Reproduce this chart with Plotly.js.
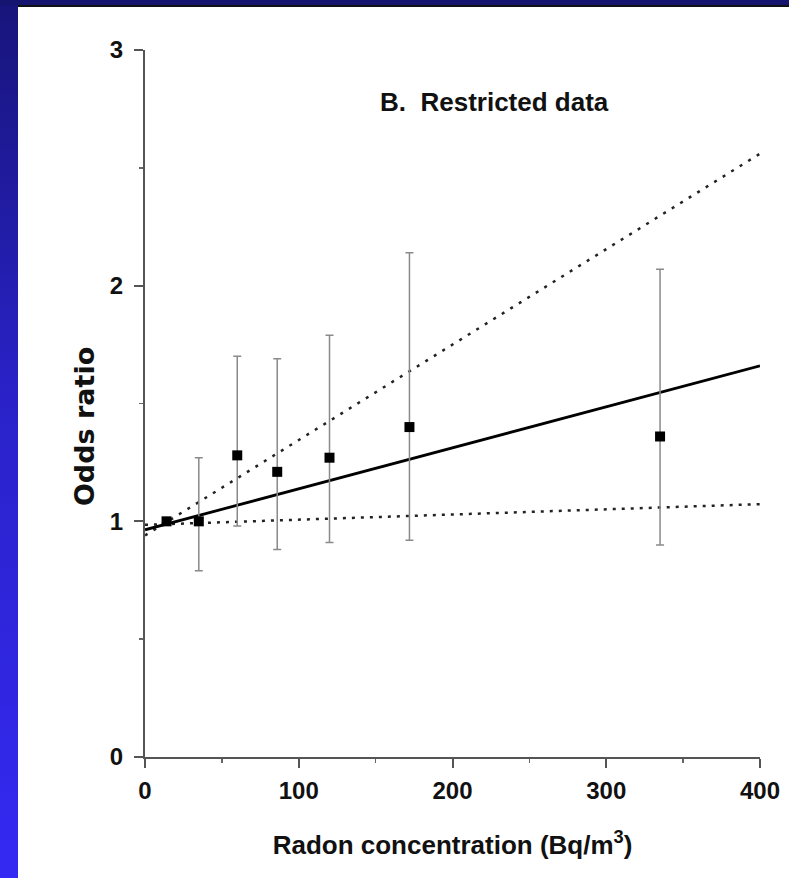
<!DOCTYPE html>
<html>
<head>
<meta charset="utf-8">
<script src="https://cdn.plot.ly/plotly-3.0.1.min.js"></script>
<style>
  html, body { margin: 0; padding: 0; width: 789px; height: 878px; overflow: hidden; }
  body { background: linear-gradient(to bottom, #17157a 0%, #2a22c8 45%, #3429f2 100%); position: relative; }
  #topband { position: absolute; left: 0; top: 0; width: 789px; height: 5px; background: #15146e; }
  #topline { position: absolute; left: 18px; top: 5px; width: 771px; height: 2px; background: #111; }
  #chart { position: absolute; left: 18px; top: 7px; width: 771px; height: 871px; background: #fff; }
</style>
</head>
<body>
<div id="topband"></div>
<div id="topline"></div>
<div id="chart"></div>
<script>
// Observed odds ratios by radon concentration category
var radon = [14, 35, 60, 86, 120, 172, 335];
var oddsRatio = [1.00, 1.00, 1.28, 1.21, 1.27, 1.40, 1.36];
var ciUpper = [1.00, 1.27, 1.70, 1.69, 1.79, 2.14, 2.07];
var ciLower = [1.00, 0.79, 0.98, 0.88, 0.91, 0.92, 0.90];

// Fitted linear model and its confidence limits
var fitX = [0, 400];
var fitY = [0.964, 1.660];
var fitUpperY = [0.940, 2.560];
var fitLowerY = [0.985, 1.073];

var xTickVals = [0, 100, 200, 300, 400];
var xTickText = ['0', '100', '200', '300', '400'];
var yTickVals = [0, 1, 2, 3];
var yTickText = ['0', '1', '2', '3'];

var errPlus = ciUpper.map(function (u, i) { return u - oddsRatio[i]; });
var errMinus = ciLower.map(function (l, i) { return oddsRatio[i] - l; });

var arialB = '"Liberation Sans", Arial, sans-serif';

var traces = [
  { x: fitX, y: fitUpperY, mode: 'lines', line: { color: '#222', width: 2.5, dash: '3px,7px' }, hoverinfo: 'skip', showlegend: false },
  { x: fitX, y: fitLowerY, mode: 'lines', line: { color: '#222', width: 2.5, dash: '3px,6px' }, hoverinfo: 'skip', showlegend: false },
  { x: fitX, y: fitY, mode: 'lines', line: { color: '#000', width: 2.8 }, showlegend: false },
  {
    x: radon, y: oddsRatio, mode: 'markers',
    marker: { symbol: 'square', size: 10, color: '#000' },
    error_y: { type: 'data', symmetric: false, array: errPlus, arrayminus: errMinus, color: '#8a8a8a', thickness: 1.5, width: 4 },
    cliponaxis: false, showlegend: false
  }
];

var axisCommon = {
  showgrid: false, zeroline: false, showline: true,
  linecolor: '#555', linewidth: 2,
  ticks: 'outside', tickcolor: '#555', tickwidth: 2, ticklen: 9,
  tickfont: { family: arialB, size: 24, color: '#111', weight: 'bold' },
  fixedrange: true
};

var layout = {
  width: 771, height: 871,
  margin: { l: 127, r: 29, t: 43, b: 121 },
  paper_bgcolor: '#fff', plot_bgcolor: '#fff',
  xaxis: Object.assign({}, axisCommon, {
    range: [0, 400], tickmode: 'array', tickvals: xTickVals, ticktext: xTickText,
    ticklabelstandoff: 2,
    minor: { dtick: 50, ticks: 'outside', ticklen: 4, tickcolor: '#666', tickwidth: 1.5 },
    title: { text: 'Radon concentration (Bq/m<sup>3</sup>)', standoff: 33,
             font: { family: arialB, size: 26, color: '#111', weight: 'bold' } }
  }),
  yaxis: Object.assign({}, axisCommon, {
    range: [0, 3], tickmode: 'array', tickvals: yTickVals, ticktext: yTickText,
    ticklabelstandoff: 6,
    minor: { dtick: 0.5, ticks: 'outside', ticklen: 4, tickcolor: '#666', tickwidth: 1.5 }
  }),
  annotations: [
    {
      text: 'B.\u00a0 Restricted data', xref: 'paper', yref: 'y',
      x: 0.379, y: 2.78, xanchor: 'left', yanchor: 'middle', showarrow: false,
      font: { family: arialB, size: 26, color: '#111', weight: 'bold' }
    },
    {
      text: 'Odds ratio', xref: 'paper', yref: 'y', textangle: -90,
      x: -0.0992, y: 1.404, xanchor: 'center', yanchor: 'middle', showarrow: false,
      font: { family: '"DejaVu Sans", sans-serif', size: 27, color: '#111', weight: 'bold' }
    }
  ]
};

Plotly.newPlot('chart', traces, layout, { displayModeBar: false, staticPlot: true });
</script>
</body>
</html>
